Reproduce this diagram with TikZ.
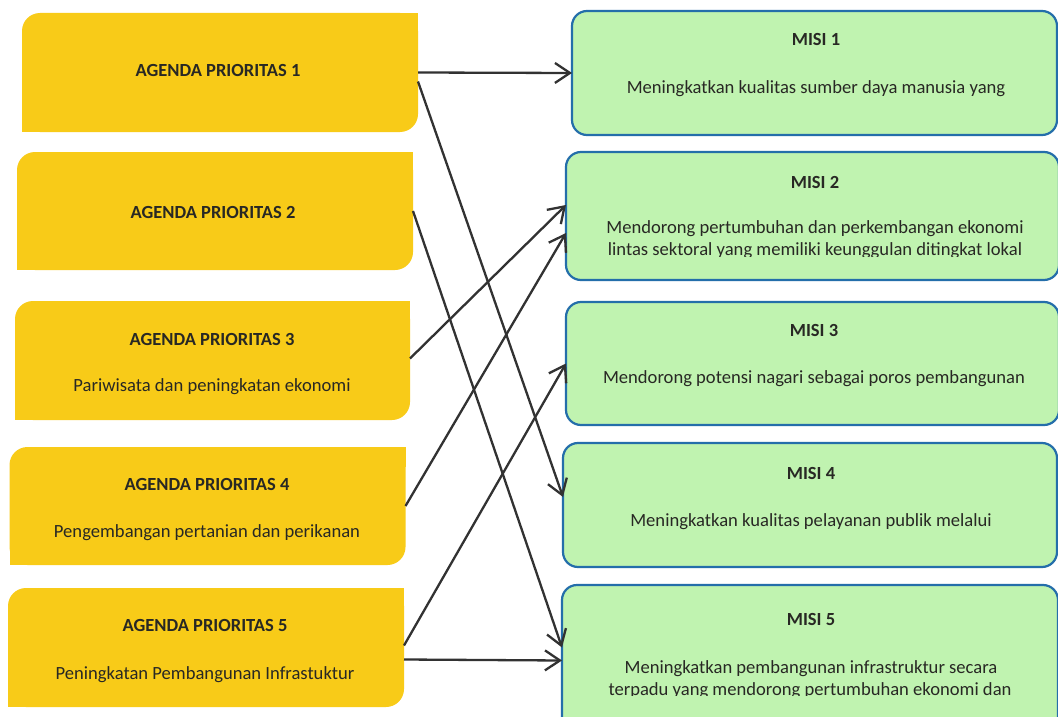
\documentclass[tikz,border=0pt]{standalone}
\usepackage{fontspec}
\setmainfont{Carlito}
\usetikzlibrary{arrows.meta}
\definecolor{gold}{RGB}{248,203,24}
\definecolor{mgreen}{RGB}{192,243,176}
\definecolor{mblue}{RGB}{36,110,170}
\definecolor{txt}{RGB}{40,40,36}
\definecolor{arr}{RGB}{50,50,50}
\begin{document}
\begin{tikzpicture}[x=1pt,y=-1pt,
 agbox/.style={fill=gold,rounded corners=18pt,inner sep=0pt,outer sep=0pt,minimum width=396pt,minimum height=119pt},
 mbox/.style={fill=mgreen,draw=mblue,line width=2.2pt,rounded corners=15pt,inner sep=0pt,outer sep=0pt},
 ttl/.style={anchor=base,font=\fontsize{18.5}{22}\selectfont\bfseries,text=txt,inner sep=0pt},
 sub/.style={anchor=base,font=\fontsize{18.6}{22}\selectfont,text=txt,inner sep=0pt},
 link/.style={draw=arr,line width=2.3pt,-{Straight Barb[length=15pt,width=20pt]}}
]
\useasboundingbox (0,0) rectangle (1058,717);
\fill[white] (0,0) rectangle (1058,717);

% left boxes
\node[agbox] (a1) at (220,72.5) {};
\node[agbox,minimum height=118pt] (a2) at (215,211) {};
\node[agbox,minimum width=395pt] (a3) at (212.5,360.5) {};
\node[agbox,minimum height=118pt] (a4) at (207.5,506) {};
\node[agbox] (a5) at (206,647.5) {};
\foreach \n in {a1,a2,a3,a4,a5}{
  \fill[gold] (\n.north east) rectangle ([xshift=-20pt,yshift=-20pt]\n.north east);
  \fill[gold] (\n.south west) rectangle ([xshift=20pt,yshift=20pt]\n.south west);
}
\node[ttl] (a1t) at (218,77) {AGENDA PRIORITAS 1};
\node[ttl] (a2t) at (213,218) {AGENDA PRIORITAS 2};
\node[ttl] (a3t) at (212,345) {AGENDA PRIORITAS 3};
\node[sub] (a3s) at (212,391.5) {Pariwisata dan peningkatan ekonomi};
\node[ttl] (a4t) at (207,490) {AGENDA PRIORITAS 4};
\node[sub] (a4s) at (207,537) {Pengembangan pertanian dan perikanan};
\node[ttl] (a5t) at (205,631) {AGENDA PRIORITAS 5};
\node[sub] (a5s) at (205,679) {Peningkatan Pembangunan Infrastuktur};

% right boxes
\node[mbox,minimum width=485pt,minimum height=124pt] (m1) at (814.5,73) {};
\node[mbox,minimum width=493pt,minimum height=128pt] (m2) at (812.5,216) {};
\node[mbox,minimum width=493pt,minimum height=123pt] (m3) at (812.5,363.5) {};
\node[mbox,minimum width=494pt,minimum height=124pt] (m4) at (810,505) {};
\node[mbox,minimum width=496pt,minimum height=175pt] (m5) at (810,672.5) {};

\node[ttl] (m1t) at (816,46) {MISI 1};
\node[sub] (m1s) at (816,94) {Meningkatkan kualitas sumber daya manusia yang};
\node[ttl] (m2t) at (815,188) {MISI 2};
\node[sub] (m2s) at (815,233.5) {Mendorong pertumbuhan dan perkembangan ekonomi};
\begin{scope}
\clip (560,240) rectangle (1058,256);
\node[sub] (m2u) at (815,255.5) {lintas sektoral yang memiliki keunggulan ditingkat lokal};
\end{scope}
\node[ttl] (m3t) at (814,336.5) {MISI 3};
\node[sub] (m3s) at (814,383.5) {Mendorong potensi nagari sebagai poros pembangunan};
\node[ttl] (m4t) at (811,479) {MISI 4};
\node[sub] (m4s) at (811,526.5) {Meningkatkan kualitas pelayanan publik melalui};
\node[ttl] (m5t) at (811,625.5) {MISI 5};
\node[sub] (m5s) at (811,673) {Meningkatkan pembangunan infrastruktur secara};
\begin{scope}
\clip (560,680) rectangle (1058,695.5);
\node[sub] (m5u) at (810,695) {terpadu yang mendorong pertumbuhan ekonomi dan};
\end{scope}

% connectors
\draw[link] (a1.east) -- (m1.west);
\draw[link] ([yshift=-9pt]a1.east) -- ([yshift=8pt]m4.west);
\draw[link] (a2.east) -- ([yshift=25pt]m5.west);
\draw[link] ([yshift=2pt]a3.east) -- ([yshift=11pt]m2.west);
\draw[link] (a4.east) -- ([yshift=-17pt]m2.west);
\draw[link] ([yshift=2pt]a5.east) -- (m3.west);
\draw[link] ([yshift=-12pt]a5.east) -- ([yshift=12pt]m5.west);
\end{tikzpicture}
\end{document}
